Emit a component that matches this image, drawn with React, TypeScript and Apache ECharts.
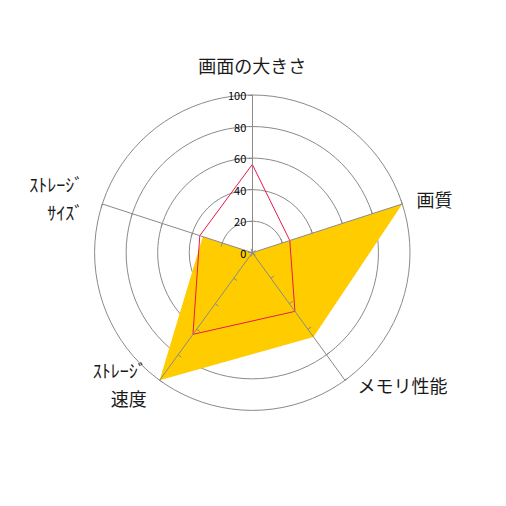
import { useEffect, useRef } from "react";
import * as echarts from "echarts";

// clockwise from the top, as in the picture
const indicatorNames = ["画面の大きさ", "画質", "メモリ性能", "ｽﾄﾚｰｼﾞ\n速度", "ｽﾄﾚｰｼﾞ\nｻｲｽﾞ"];
const yellowValues = [0, 100, 66, 100, 33];
const redValues = [56, 25, 46, 64, 35];
const maxValue = 100;

// per-axis name placement (same clockwise order)
const nameGaps = [16, 15, 6, 5, 20];
const namePaddings = [
  [0, 0, 0, 0],
  [0, 0, 6, 0],
  [0, 0, 0, 9],
  [0, 10, 0, 0],
  [0, 0, 0, 0],
];

// echarts lays indicators out counter-clockwise
const ccw = <T,>(a: T[]) => [a[0], ...a.slice(1).reverse()];

const GRID = "#8a8a8a";
const FONT = "'Noto Sans CJK JP', 'Noto Sans', sans-serif";

export default function App() {
  const ref = useRef<HTMLDivElement>(null);

  useEffect(() => {
    if (!ref.current) return;
    const chart = echarts.init(ref.current, undefined, { renderer: "svg" });

    const names = ccw(indicatorNames);
    const gaps = ccw(nameGaps);
    const pads = ccw(namePaddings);

    const base = {
      center: [244.3, 244.7],
      radius: 157.7,
      startAngle: 90,
      shape: "circle",
      splitNumber: 5,
    };

    chart.setOption({
      animation: false,
      textStyle: { fontFamily: FONT },
      radar: [
        {
          ...base,
          z: 0,
          indicator: names.map((n) => ({ name: n, min: 0, max: maxValue })),
          axisName: { show: false },
          axisLine: { show: false },
          axisTick: { show: false },
          axisLabel: { show: false },
          splitArea: { show: false },
          splitLine: { lineStyle: { color: GRID, width: 1 } },
        },
        {
          ...base,
          z: 5,
          indicator: names.map((n, i) => ({
            name: n,
            min: 0,
            max: maxValue,
            nameGap: gaps[i],
            nameTextStyle: { padding: pads[i] },
            axisLabel: { show: i === 0 },
          })),
          axisName: {
            show: true,
            color: "#1a1a1a",
            fontSize: 18,
            lineHeight: 28,
            fontFamily: FONT,
          },
          axisNameGap: 15,
          axisLine: { show: true, lineStyle: { color: GRID, width: 1 } },
          axisTick: { show: true, length: 4, lineStyle: { color: GRID } },
          axisLabel: {
            show: false,
            color: "#000",
            fontSize: 11,
            margin: 6,
            fontFamily: FONT,
          },
          splitArea: { show: false },
          splitLine: { show: false },
        },
      ],
      series: [
        {
          type: "radar",
          radarIndex: 0,
          z: 2,
          symbol: "none",
          data: [
            {
              value: ccw(yellowValues),
              lineStyle: { width: 0, color: "#FFCC00" },
              areaStyle: { color: "#FFCC00", opacity: 1 },
            },
            {
              value: ccw(redValues),
              lineStyle: { width: 1, color: "#E8194C" },
            },
          ],
        },
      ],
    });

    return () => chart.dispose();
  }, []);

  return <div ref={ref} style={{ width: 490, height: 490 }} />;
}
